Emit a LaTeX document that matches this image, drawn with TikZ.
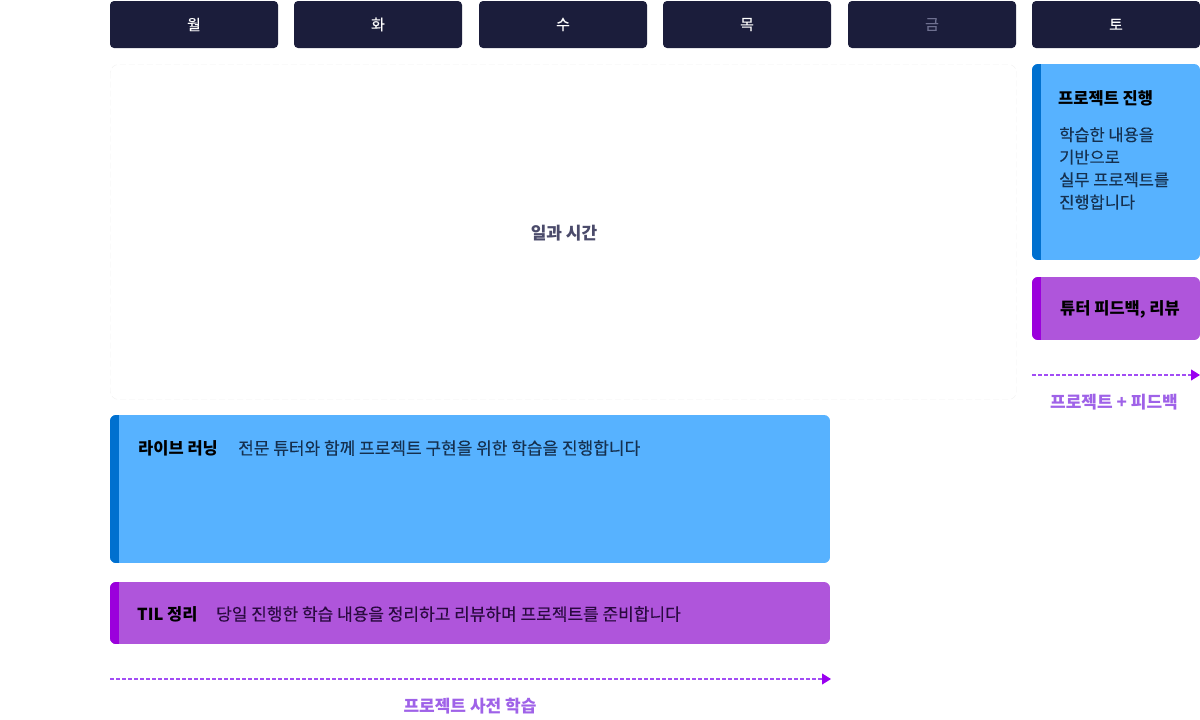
\documentclass[tikz,border=0pt]{standalone}
\usepackage{fontspec}
\setmainfont{Noto Sans CJK KR}
\newfontfamily\krmed{Noto Sans CJK KR}[FakeBold=0.25]
\usetikzlibrary{arrows.meta}
\definecolor{navy}{HTML}{1B1D3B}
\definecolor{bluefill}{HTML}{57B2FF}
\definecolor{bluebar}{HTML}{0070CF}
\definecolor{purfill}{HTML}{AF55DB}
\definecolor{purbar}{HTML}{9B00DC}
\definecolor{arrowc}{HTML}{A24DF5}
\definecolor{tipc}{HTML}{9A00F0}
\definecolor{labc}{HTML}{9F62E8}
\definecolor{bodyb}{HTML}{15304F}
\definecolor{bodyp}{HTML}{2A0A40}
\definecolor{grayt}{HTML}{4B4B6B}
\definecolor{dimt}{HTML}{6E7090}
\begin{document}
\begin{tikzpicture}[x=1pt,y=-1pt,
  day/.style={fill=navy,rounded corners=4pt,minimum width=168pt,minimum height=47pt,inner sep=0pt,text=white,font=\krmed\fontsize{15}{18}\selectfont},
  title/.style={anchor=west,inner sep=0pt,font=\fontsize{16.5}{20}\selectfont\bfseries,text=black},
  body/.style={anchor=west,inner sep=0pt,font=\krmed\fontsize{17}{20}\selectfont},
  flow/.style={arrowc,dashed,dash pattern=on 4pt off 2pt,line width=1.1pt,-{Triangle[length=9pt,width=11pt,color=tipc,fill=tipc]}},
  flowlab/.style={inner sep=0pt,font=\fontsize{17}{20}\selectfont\bfseries,text=labc}
]
\useasboundingbox (0,0) rectangle (1200,720);
% header
\node[day] (mon) at (194,24.5) {월};
\node[day] (tue) at (378,24.5) {화};
\node[day] (wed) at (563,24.5) {수};
\node[day] (thu) at (747,24.5) {목};
\node[day,text=dimt] (fri) at (932,24.5) {금};
\node[day] (sat) at (1116,24.5) {토};
% main area
\draw[gray!12,dashed,dash pattern=on 6pt off 3pt,rounded corners=8pt] (110.5,64.5) rectangle (1016.5,399.5);
\node[inner sep=0pt,font=\fontsize{17}{20}\selectfont\bfseries,text=grayt] (work) at (564,233) {일과 시간};
% saturday project box
\begin{scope}
\clip[rounded corners=6pt] (1032,64) rectangle (1200,260);
\fill[bluefill] (1032,64) rectangle (1200,260);
\fill[bluebar] (1032,64) rectangle (1041,260);
\end{scope}
\node[title] (projt) at (1058,98) {프로젝트 진행};
\node[body,text=bodyb,align=left,anchor=north west,font=\krmed\fontsize{16.5}{22.5}\selectfont] (projb) at (1059,127) {학습한 내용을\\기반으로\\실무 프로젝트를\\진행합니다};
% tutor feedback
\begin{scope}
\clip[rounded corners=6pt] (1032,277) rectangle (1200,340);
\fill[purfill] (1032,277) rectangle (1200,340);
\fill[purbar] (1032,277) rectangle (1041,340);
\end{scope}
\node[title,anchor=center] (fb) at (1120,309) {튜터 피드백, 리뷰};
% right arrow
\coordinate (ra) at (1032,375);
\coordinate (rb) at (1200,375);
\draw[flow] (ra) -- (rb);
\node[flowlab] (rlab) at (1114,402) {프로젝트 + 피드백};
% live learning
\begin{scope}
\clip[rounded corners=6pt] (110,415) rectangle (830,563);
\fill[bluefill] (110,415) rectangle (830,563);
\fill[bluebar] (110,415) rectangle (119,563);
\end{scope}
\node[title] (livet) at (138,448) {라이브 러닝};
\node[body,text=bodyb] (liveb) at (238,448) {전문 튜터와 함께 프로젝트 구현을 위한 학습을 진행합니다};
% TIL
\begin{scope}
\clip[rounded corners=6pt] (110,582) rectangle (830,644);
\fill[purfill] (110,582) rectangle (830,644);
\fill[purbar] (110,582) rectangle (119,644);
\end{scope}
\node[title] (tilt) at (137,614) {TIL 정리};
\node[body,text=bodyp] (tilb) at (216,614) {당일 진행한 학습 내용을 정리하고 리뷰하며 프로젝트를 준비합니다};
% bottom arrow
\coordinate (la) at (110,679);
\coordinate (lb) at (831,679);
\draw[flow] (la) -- (lb);
\node[flowlab] (llab) at (470,706) {프로젝트 사전 학습};
\end{tikzpicture}
\end{document}
